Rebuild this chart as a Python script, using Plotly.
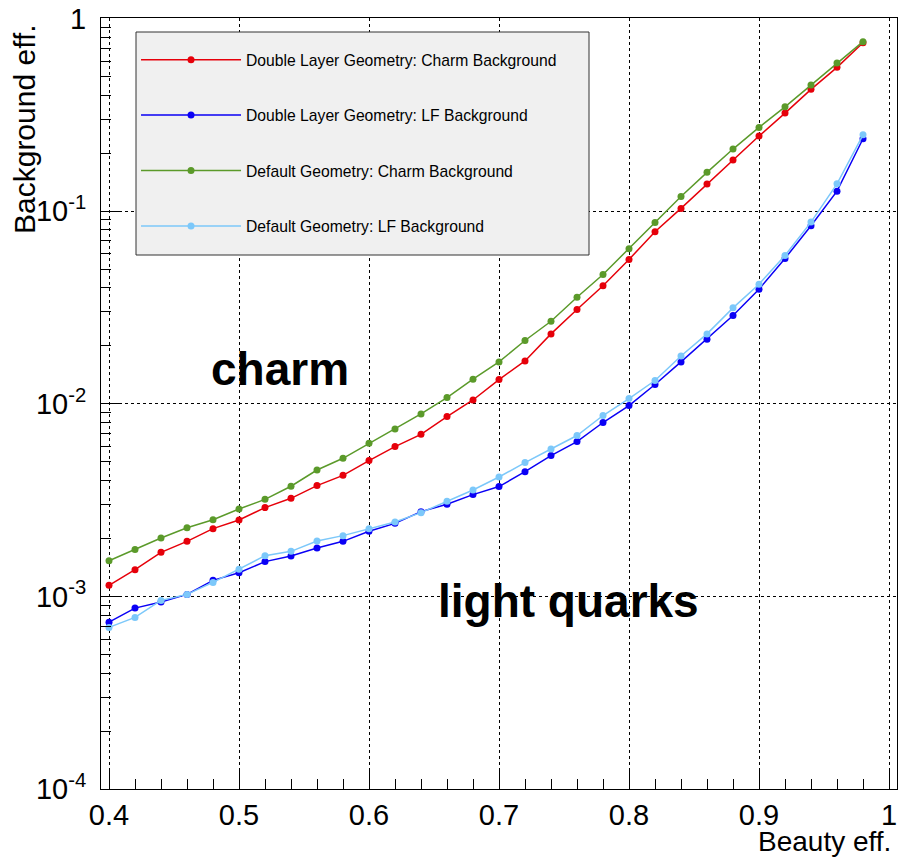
import plotly.graph_objects as go

beauty_eff = [0.40, 0.42, 0.44, 0.46, 0.48, 0.50, 0.52, 0.54, 0.56, 0.58,
              0.60, 0.62, 0.64, 0.66, 0.68, 0.70, 0.72, 0.74, 0.76, 0.78,
              0.80, 0.82, 0.84, 0.86, 0.88, 0.90, 0.92, 0.94, 0.96, 0.98]

dl_charm = [1.141e-3, 1.376e-3, 1.693e-3, 1.931e-3, 2.247e-3, 2.491e-3, 2.889e-3, 3.229e-3, 3.759e-3, 4.25e-3,
            5.07e-3, 5.99e-3, 6.94e-3, 8.58e-3, 1.046e-2, 1.335e-2, 1.669e-2, 2.305e-2, 3.087e-2, 4.10e-2,
            5.61e-2, 7.81e-2, 0.1033, 0.1381, 0.184, 0.2453, 0.3229, 0.4287, 0.5578, 0.7485]

dl_lf = [7.35e-4, 8.69e-4, 9.34e-4, 1.024e-3, 1.211e-3, 1.327e-3, 1.515e-3, 1.62e-3, 1.781e-3, 1.931e-3,
         2.176e-3, 2.394e-3, 2.754e-3, 3.006e-3, 3.376e-3, 3.715e-3, 4.44e-3, 5.38e-3, 6.36e-3, 7.99e-3,
         9.79e-3, 1.258e-2, 1.649e-2, 2.163e-2, 2.871e-2, 3.933e-2, 5.68e-2, 8.39e-2, 0.127, 0.2375]

def_charm = [1.53e-3, 1.75e-3, 2.01e-3, 2.27e-3, 2.50e-3, 2.84e-3, 3.19e-3, 3.73e-3, 4.53e-3, 5.21e-3,
             6.23e-3, 7.40e-3, 8.85e-3, 1.077e-2, 1.341e-2, 1.649e-2, 2.13e-2, 2.68e-2, 3.57e-2, 4.69e-2,
             6.37e-2, 8.74e-2, 0.119, 0.159, 0.210, 0.272, 0.348, 0.451, 0.587, 0.758]

def_lf = [6.90e-4, 7.78e-4, 9.53e-4, 1.024e-3, 1.182e-3, 1.381e-3, 1.627e-3, 1.713e-3, 1.938e-3, 2.067e-3,
          2.247e-3, 2.432e-3, 2.72e-3, 3.115e-3, 3.566e-3, 4.165e-3, 4.95e-3, 5.82e-3, 6.84e-3, 8.69e-3,
          1.064e-2, 1.32e-2, 1.771e-2, 2.305e-2, 3.146e-2, 4.176e-2, 5.89e-2, 8.77e-2, 0.1386, 0.249]

series_names = ["Double Layer Geometry: Charm Background",
                "Double Layer Geometry: LF Background",
                "Default Geometry: Charm Background",
                "Default Geometry: LF Background"]
series_values = [dl_charm, dl_lf, def_charm, def_lf]
series_colors = ["#e6000a", "#0a00f5", "#5b9a2a", "#7cc8fa"]

y_tickvals = [1e-4, 1e-3, 1e-2, 1e-1, 1]
y_ticktext = ["10<sup>-4</sup>", "10<sup>-3</sup>", "10<sup>-2</sup>", "10<sup>-1</sup>", "1"]

FONT = "Liberation Sans, Arial, Helvetica, sans-serif"

fig = go.Figure()
for i, (name, vals, col) in enumerate(zip(series_names, series_values, series_colors)):
    fig.add_trace(go.Scatter(
        x=beauty_eff, y=vals, name=name, mode="lines+markers",
        line=dict(color=col, width=1.5),
        marker=dict(color=col, size=7, symbol="circle"),
        legendgroup=f"g{i}",
    ))

axis_common = dict(
    showline=True, linecolor="black", linewidth=1, mirror=True,
    ticks="inside", tickcolor="black", ticklen=20, tickwidth=1,
    showgrid=True, gridcolor="black", griddash="dot", gridwidth=1,
    zeroline=False,
    tickfont=dict(family=FONT, size=29, color="black"),
)

fig.update_xaxes(
    range=[0.39385, 1.00615], tickmode="linear", tick0=0.4, dtick=0.1,
    minor=dict(dtick=0.02, ticks="inside", ticklen=10, tickcolor="black", showgrid=False),
    **axis_common,
)
fig.update_yaxes(
    type="log", range=[-4, 0.0026], tickmode="array",
    tickvals=y_tickvals, ticktext=y_ticktext,
    minor=dict(tickmode="linear", dtick="D1", ticks="inside", ticklen=10,
               tickcolor="black", showgrid=False),
    ticklabelstandoff=8,
    **axis_common,
)

fig.update_layout(
    width=901, height=857,
    margin=dict(l=101, r=4, t=18, b=68),
    paper_bgcolor="white", plot_bgcolor="white",
    font=dict(family=FONT, color="black"),
    showlegend=True,
    legend=dict(
        x=0.044, y=(789 - 43) / 771, xanchor="left", yanchor="top",
        bgcolor="rgba(0,0,0,0)", borderwidth=0,
        font=dict(family=FONT, size=15.7, color="black"),
        itemwidth=100, tracegroupgap=32,
    ),
    shapes=[
        dict(type="rect", xref="paper", yref="paper",
             x0=(136 - 101) / 796, x1=(589 - 101) / 796,
             y0=(789 - 255) / 771, y1=(789 - 32) / 771,
             fillcolor="#f0f0f0", line=dict(color="#333333", width=1), layer="above"),
    ],
    annotations=[
        dict(text="Beauty eff.", xref="paper", yref="paper", x=0.995, y=(789 - 841) / 771,
             xanchor="right", yanchor="middle", showarrow=False,
             font=dict(family=FONT, size=28, color="black")),
        dict(text="Background eff.", xref="paper", yref="paper", x=(24 - 101) / 796,
             y=(789 - 129) / 771,
             xanchor="center", yanchor="middle", textangle=-90, showarrow=False,
             font=dict(family=FONT, size=30, color="black")),
        dict(text="<b>charm</b>", xref="x", yref="y", x=0.5315, y=-1.8208,
             xanchor="center", yanchor="middle", showarrow=False,
             font=dict(family=FONT, size=46, color="black")),
        dict(text="<b>light quarks</b>", xref="x", yref="y", x=0.7538, y=-3.0244,
             xanchor="center", yanchor="middle", showarrow=False,
             font=dict(family=FONT, size=46, color="black")),
    ],
)

fig.write_html("out.html")
